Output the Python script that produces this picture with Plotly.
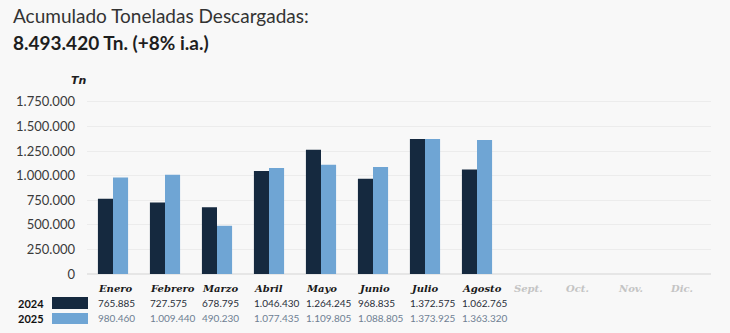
import plotly.graph_objects as go

# Monthly unloaded tonnage, 2024 vs 2025
months = ["Enero", "Febrero", "Marzo", "Abril", "Mayo", "Junio",
          "Julio", "Agosto", "Sept.", "Oct.", "Nov.", "Dic."]
values_2024 = [765885, 727575, 678795, 1046430, 1264245, 968835,
               1372575, 1062765, None, None, None, None]
values_2025 = [980460, 1009440, 490230, 1077435, 1109805, 1088805,
               1373925, 1363320, None, None, None, None]
y_ticks = [0, 250000, 500000, 750000, 1000000, 1250000, 1500000, 1750000]

DARK = "#15293f"
LIGHT = "#6fa5d4"
BG = "#f8f8f8"

W, H = 730, 333
ML, MR, MT, MB = 87, 19, 97, 59
PW, PH = W - ML - MR, H - MT - MB


def px(x):
    return (x - ML) / PW


def py(y):
    return (H - MB - y) / PH


def fmt(v):
    return f"{v:,}".replace(",", ".")


fig = go.Figure()
fig.add_trace(go.Bar(x=months, y=values_2024, name="2024",
                     marker=dict(color=DARK, line=dict(width=0))))
fig.add_trace(go.Bar(x=months, y=values_2025, name="2025",
                     marker=dict(color=LIGHT, line=dict(width=0))))

ann = []
# Title block
ann.append(dict(x=px(11), y=py(15), xref="paper", yref="paper",
                text="Acumulado Toneladas Descargadas:", showarrow=False,
                xanchor="left", yanchor="middle",
                font=dict(family="Lato", size=19, color="#333333")))
ann.append(dict(x=px(11), y=py(42), xref="paper", yref="paper",
                text="<b>8.493.420 Tn. (+8% i.a.)</b>", showarrow=False,
                xanchor="left", yanchor="middle",
                font=dict(family="Lato", size=19, color="#1e1e1e")))
# Axis unit
ann.append(dict(x=px(89), y=py(80), xref="paper", yref="paper",
                text="<b><i>Tn</i></b>", showarrow=False,
                xanchor="right", yanchor="middle",
                font=dict(family="DejaVu Sans", size=11, color="#1e1e1e")))

# Month row and data table
for i, m in enumerate(months):
    future = values_2024[i] is None
    ann.append(dict(x=m, y=py(288), xref="x", yref="paper", xshift=-17,
                    text=f"<b><i>{m}</i></b>", showarrow=False,
                    xanchor="left", yanchor="middle",
                    font=dict(family="DejaVu Serif", size=10,
                              color="#c4c4c4" if future else "#1a1a1a")))
    if not future:
        ann.append(dict(x=m, y=py(303), xref="x", yref="paper", xshift=-17,
                        text=fmt(values_2024[i]), showarrow=False,
                        xanchor="left", yanchor="middle",
                        font=dict(family="Lato", size=10, color="#2a2f3a")))
        ann.append(dict(x=m, y=py(318), xref="x", yref="paper", xshift=-17,
                        text=fmt(values_2025[i]), showarrow=False,
                        xanchor="left", yanchor="middle",
                        font=dict(family="Lato", size=10, color="#6f7f93")))

# Legend rows
for label, yy in (("2024", 303), ("2025", 318)):
    ann.append(dict(x=px(46), y=py(yy), xref="paper", yref="paper",
                    text=f"<b>{label}</b>", showarrow=False,
                    xanchor="right", yanchor="middle",
                    font=dict(family="Lato", size=11, color="#111111")))

shapes = [
    dict(type="rect", xref="paper", yref="paper", x0=px(52), x1=px(88),
         y0=py(309), y1=py(297), fillcolor=DARK, line=dict(width=0)),
    dict(type="rect", xref="paper", yref="paper", x0=px(52), x1=px(88),
         y0=py(324), y1=py(313), fillcolor=LIGHT, line=dict(width=0)),
]

fig.update_layout(
    width=W, height=H,
    margin=dict(l=ML, r=MR, t=MT, b=MB),
    paper_bgcolor=BG, plot_bgcolor=BG,
    barmode="group", bargap=0.42, bargroupgap=0,
    showlegend=False,
    annotations=ann, shapes=shapes,
    xaxis=dict(showticklabels=False, showgrid=False, zeroline=False,
               showline=False, ticks="", fixedrange=True),
    yaxis=dict(range=[0, 1800000], tickvals=y_ticks,
               ticktext=[fmt(v) for v in y_ticks],
               showgrid=True, gridcolor="#ececec", gridwidth=1,
               zeroline=True, zerolinecolor="#e6e6e6",
               tickfont=dict(family="Lato", size=13, color="#3a3a3a"),
               ticks="", ticklabelstandoff=11, fixedrange=True),
)

fig.write_html("out.html")
